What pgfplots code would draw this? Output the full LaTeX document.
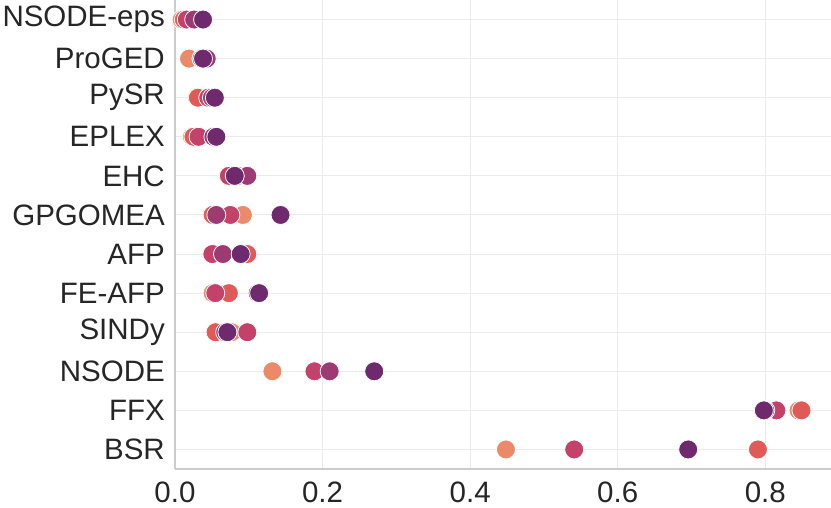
\documentclass[border=0pt]{standalone}
\usepackage{pgfplots}
\pgfplotsset{compat=1.18}
\usepackage{fontspec}
\setmainfont{Liberation Sans}
\definecolor{cA}{HTML}{EA8A69}
\definecolor{cB}{HTML}{E05B58}
\definecolor{cC}{HTML}{C4416A}
\definecolor{cD}{HTML}{9E3A72}
\definecolor{cE}{HTML}{6E2A6C}
\definecolor{gridc}{HTML}{EBEBEB}
\definecolor{spinec}{HTML}{CCCCCC}
\definecolor{txt}{HTML}{262626}
\begin{document}
\begin{tikzpicture}
\begin{axis}[
  scale only axis,
  width=656pt, height=469pt,
  xmin=0, xmax=0.889,
  ymin=-0.5, ymax=11.5,
  y dir=reverse,
  axis x line*=bottom, axis y line*=left,
  axis line style={spinec, line width=1.2pt, -},
  xtick={0,0.2,0.4,0.6,0.8},
  xticklabels={0.0,0.2,0.4,0.6,0.8},
  ytick={0,1,2,3,4,5,6,7,8,9,10,11},
  yticklabels={NSODE-eps,ProGED,PySR,EPLEX,EHC,GPGOMEA,AFP,FE-AFP,SINDy,NSODE,FFX,BSR},
  major tick length=0pt,
  tick style={draw=none},
  grid=major,
  major grid style={gridc, line width=1pt},
  ticklabel style={font=\fontsize{29.5}{31}\selectfont, text=txt, inner sep=0pt},
  yticklabel style={xshift=-10pt},
  xticklabel style={yshift=-13pt},
  every axis plot/.append style={only marks, mark=*, mark size=9.5pt},
]
\addplot[mark options={fill=cA, draw=white, line width=0.8pt}] coordinates {
 (0.009,0) (0.019,1) (0.030,2) (0.023,3) (0.082,4) (0.092,5)
 (0.095,6) (0.051,7) (0.077,8) (0.132,9) (0.845,10) (0.4485,11)};
\addplot[mark options={fill=cB, draw=white, line width=0.8pt}] coordinates {
 (0.012,0) (0.036,1) (0.031,2) (0.025,3) (0.085,4) (0.051,5)
 (0.098,6) (0.073,7) (0.055,8) (0.190,9) (0.849,10) (0.790,11)};
\addplot[mark options={fill=cC, draw=white, line width=0.8pt}] coordinates {
 (0.016,0) (0.036,1) (0.045,2) (0.032,3) (0.073,4) (0.075,5)
 (0.0506,6) (0.0546,7) (0.098,8) (0.189,9) (0.815,10) (0.541,11)};
\addplot[mark options={fill=cD, draw=white, line width=0.8pt}] coordinates {
 (0.026,0) (0.043,1) (0.050,2) (0.052,3) (0.098,4) (0.056,5)
 (0.065,6) (0.112,7) (0.068,8) (0.2096,9) (0.800,10) (0.6955,11)};
\addplot[mark options={fill=cE, draw=white, line width=0.8pt}] coordinates {
 (0.038,0) (0.038,1) (0.054,2) (0.056,3) (0.081,4) (0.143,5)
 (0.089,6) (0.114,7) (0.071,8) (0.270,9) (0.798,10) (0.6955,11)};
\end{axis}
\pgfresetboundingbox
\path ([xshift=-175pt,yshift=-38.2pt]current axis.south west) rectangle (current axis.north east);
\end{tikzpicture}
\end{document}
